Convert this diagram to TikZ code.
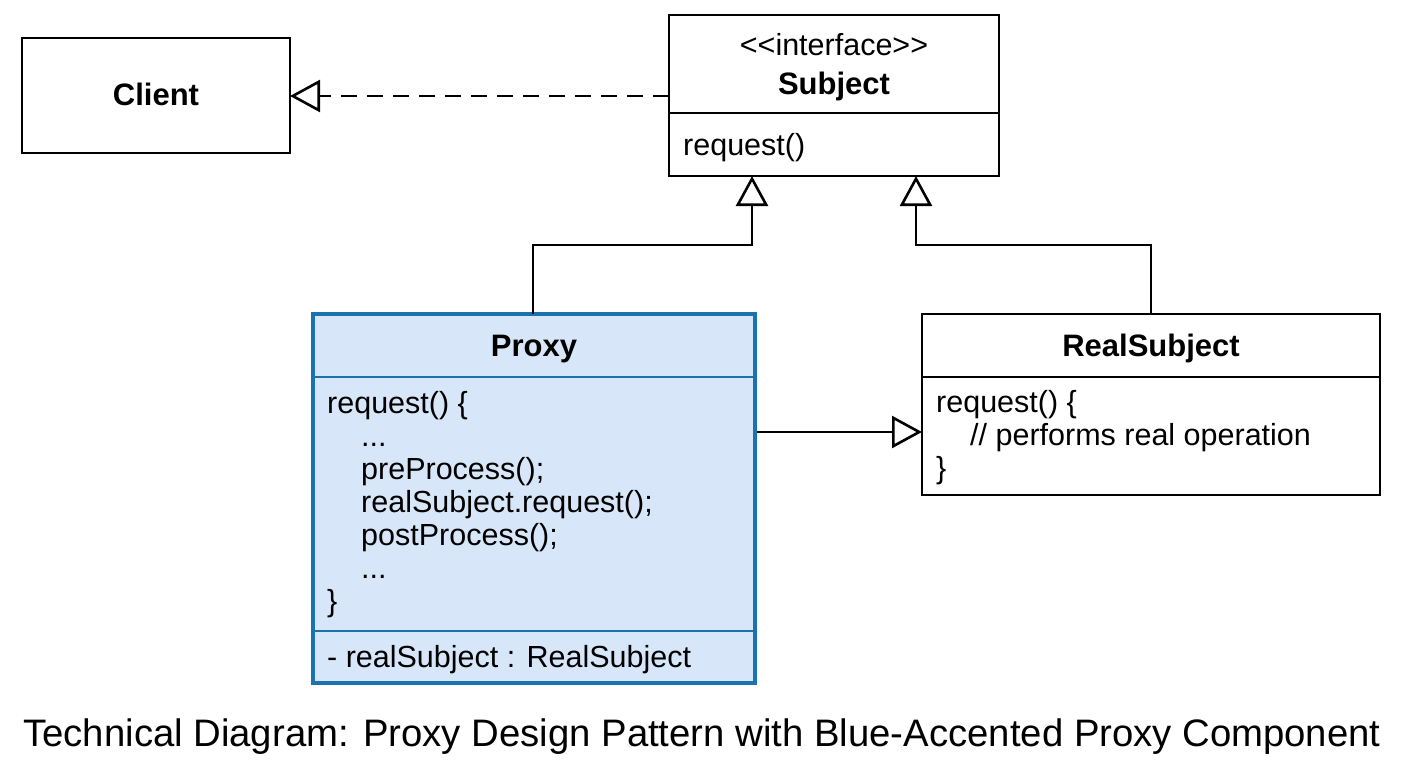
\documentclass[tikz,border=0pt]{standalone}
\usepackage{fontspec}
\setmainfont{Liberation Sans}
\usetikzlibrary{arrows.meta}
\definecolor{pfill}{HTML}{D7E6F8}
\definecolor{pline}{HTML}{1A72B0}
\begin{document}
\begin{tikzpicture}[x=1pt,y=-1pt,
  box/.style={draw=black,line width=2.6pt},
  lbl/.style={anchor=base west,font=\fontsize{30.5}{33}\selectfont,inner sep=0},
  ttl/.style={anchor=base,font=\fontsize{31}{36}\selectfont\bfseries,inner sep=0},
  conn/.style={line width=2.6pt,-{Triangle[open,length=30pt,width=32pt,fill=white,line width=2.6pt]}}]
\useasboundingbox (0,0) rectangle (1408,768);
% Client
\draw[box] (22,38) rectangle (290,153);
\node[ttl] (client) at (156,106) {Client};
\coordinate (clientR) at (290,96);
% Subject
\draw[box] (669,15) rectangle (999,176);
\draw[box] (669,113) -- (999,113);
\node[lbl,anchor=base] (st) at (834,56) {{<}{<}interface{>}{>}};
\node[ttl] (subj) at (834,95) {Subject};
\node[lbl] (sreq) at (683,155) {request()};
\coordinate (subjL) at (669,96);
\coordinate (subjB1) at (752,176);
\coordinate (subjB2) at (916,176);
% Proxy
\draw[line width=3.2pt,draw=pline,fill=pfill] (313,314) rectangle (755,683);
\draw[line width=2.6pt,draw=pline] (313,377) -- (755,377) (313,631) -- (755,631);
\node[ttl] (proxy) at (534,356) {Proxy};
\node[lbl] (p1) at (327,413) {request() \{};
\node[lbl] (p2) at (361,446) {...};
\node[lbl] (p3) at (361,479) {preProcess();};
\node[lbl] (p4) at (361,512) {realSubject.request();};
\node[lbl] (p5) at (361,545) {postProcess();};
\node[lbl] (p6) at (361,578) {...};
\node[lbl] (p7) at (327,611) {\}};
\node[lbl] (p8) at (327,667) {- realSubject : RealSubject};
\coordinate (proxyT) at (533,314);
\coordinate (proxyR) at (757,432);
% RealSubject
\draw[box] (922,314) rectangle (1380,495);
\draw[box] (922,377) -- (1380,377);
\node[ttl] (rs) at (1151,356) {RealSubject};
\node[lbl] (r1) at (936,412) {request() \{};
\node[lbl] (r2) at (970,445) {// performs real operation};
\node[lbl] (r3) at (936,478) {\}};
\coordinate (rsT) at (1151,314);
\coordinate (rsL) at (922,432);
% connectors
\draw[conn,dashed,dash pattern=on 16pt off 10pt] (subjL) -- (clientR);
\draw[conn] (proxyT) -- (533,245) -| (subjB1);
\draw[conn] (rsT) -- (1151,245) -| (subjB2);
\draw[conn] (proxyR) -- (rsL);
% title
\node[anchor=base,font=\fontsize{38.3}{44}\selectfont,inner sep=0] (title) at (702,746) {Technical Diagram: Proxy Design Pattern with Blue-Accented Proxy Component};
\end{tikzpicture}
\end{document}
